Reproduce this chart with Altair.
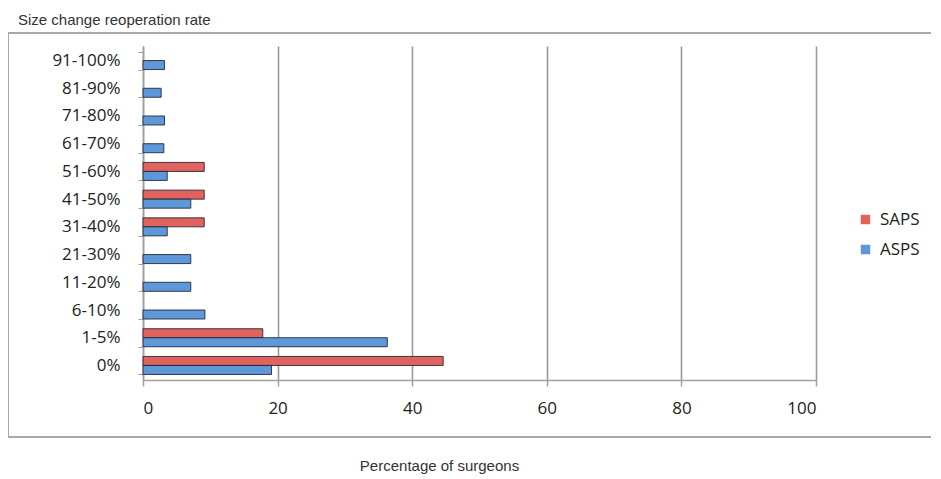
import altair as alt
import pandas as pd

categories = ["0%", "1-5%", "6-10%", "11-20%", "21-30%", "31-40%", "41-50%",
              "51-60%", "61-70%", "71-80%", "81-90%", "91-100%"]
saps = [44.6, 17.8, 0, 0, 0, 9.1, 9.1, 9.1, 0, 0, 0, 0]
asps = [19.1, 36.3, 9.2, 7.1, 7.1, 3.6, 7.1, 3.6, 3.1, 3.2, 2.7, 3.2]
series = ["SAPS", "ASPS"]
colors = ["#E2625E", "#5E98D8"]
x_ticks = [0, 20, 40, 60, 80, 100]

rows = []
for i, c in enumerate(categories):
    rows.append({"cat": c, "series": "SAPS", "value": saps[i]})
    rows.append({"cat": c, "series": "ASPS", "value": asps[i]})
df = pd.DataFrame(rows)

W, H = 673, 334
y_order = list(reversed(categories))

bars = alt.Chart(df).transform_filter("datum.value > 0").mark_bar(
    stroke="#1c2230", strokeWidth=1, strokeOpacity=0.85
).encode(
    x=alt.X("value:Q",
            scale=alt.Scale(domain=[0, 100], nice=False),
            axis=alt.Axis(values=x_ticks, title="Percentage of surgeons",
                          grid=True, gridColor="#9a9a9a", gridWidth=1.6,
                          domainColor="#a0a0a0", domainWidth=1.5,
                          tickColor="#a0a0a0", tickSize=6, tickWidth=1.5,
                          labelFontSize=17, labelFont="Open Sans",
                          labelColor="#222222", labelPadding=14,
                          titleFont="Liberation Sans", titleFontSize=15,
                          titleFontWeight="normal", titleColor="#333333",
                          titleX=296, titleY=93, titleBaseline="bottom",
                          titleAnchor="middle")),
    y=alt.Y("cat:N", sort=y_order,
            scale=alt.Scale(domain=y_order, paddingInner=0.35, paddingOuter=0.2),
            axis=alt.Axis(title=None, labelFontSize=17, labelFont="Open Sans",
                          labelColor="#222222", labelPadding=18,
                          tickBand="extent", tickSize=5, tickColor="#a0a0a0",
                          domainColor="#a0a0a0", domainWidth=1.5, grid=False)),
    yOffset=alt.YOffset("series:N", sort=series,
                        scale=alt.Scale(domain=series)),
    color=alt.Color("series:N", sort=series,
                    scale=alt.Scale(domain=series, range=colors),
                    legend=alt.Legend(title=None, orient="none",
                                      legendX=714, legendY=165,
                                      labelFontSize=17, labelFont="Open Sans",
                                      labelColor="#222222", symbolType="square",
                                      symbolSize=90, symbolStrokeWidth=0,
                                      rowPadding=12, labelOffset=6)),
)

border = alt.Chart(pd.DataFrame({"k": [0]})).mark_rect(
    fill=None, stroke="#a8a8a8", strokeWidth=2
).encode(
    x=alt.value(-135), x2=alt.value(791),
    y=alt.value(-13), y2=alt.value(391),
)

chart = alt.layer(border, bars).properties(
    width=W, height=H,
    title=alt.TitleParams("Size change reoperation rate", anchor="start",
                          frame="bounds", font="Liberation Sans", fontSize=15,
                          fontWeight="normal", color="#333333",
                          dx=11, dy=0),
    autosize=alt.AutoSizeParams(type="none"),
    padding={"left": 135, "top": 38, "right": 115, "bottom": 96},
).configure_view(stroke=None)

chart.save("out.html", embed_options={"renderer": "svg", "actions": False})
